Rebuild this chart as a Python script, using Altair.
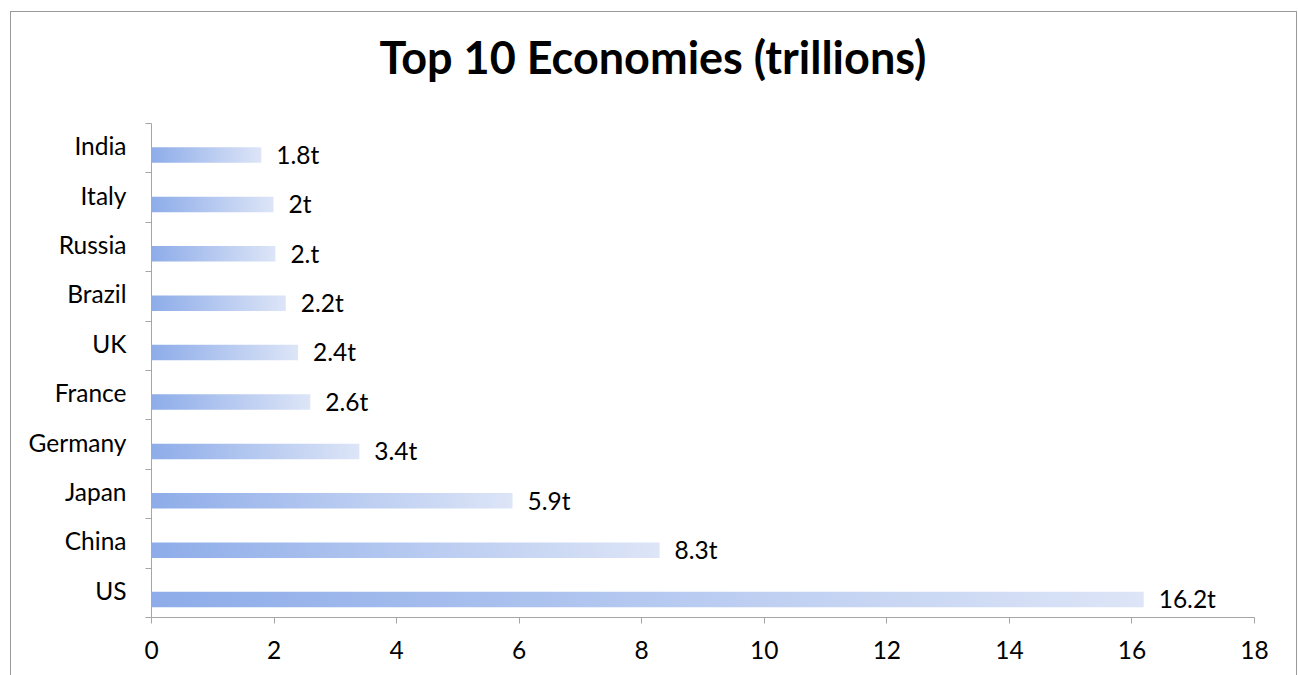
import altair as alt
import pandas as pd

countries = ["India", "Italy", "Russia", "Brazil", "UK", "France", "Germany", "Japan", "China", "US"]
values = [1.8, 2.0, 2.03, 2.2, 2.4, 2.6, 3.4, 5.9, 8.3, 16.2]
labels = ["1.8t", "2t", "2.t", "2.2t", "2.4t", "2.6t", "3.4t", "5.9t", "8.3t", "16.2t"]
x_ticks = [0, 2, 4, 6, 8, 10, 12, 14, 16, 18]

df = pd.DataFrame({"country": countries, "value": values, "label": labels})

FONT = "Lato"
GRAY = "#A6A6A6"
W, H = 1103, 494
FS = 24.5

gradient = alt.Gradient(
    gradient="linear",
    stops=[alt.GradientStop(color="#8DACE9", offset=0),
           alt.GradientStop(color="#DDE5F7", offset=1)],
    x1=0, x2=1, y1=0, y2=0,
)

y_enc = alt.Y(
    "country:N",
    sort=countries,
    title=None,
    scale=alt.Scale(paddingInner=0, paddingOuter=0),
    axis=alt.Axis(
        tickBand="extent", domainColor=GRAY, tickColor=GRAY, tickSize=6,
        labelPadding=19, labelFontSize=FS, labelFont=FONT, labelColor="#000000",
        grid=False,
    ),
)
x_enc = alt.X(
    "value:Q",
    title=None,
    scale=alt.Scale(domain=[0, 18], nice=False),
    axis=alt.Axis(
        values=x_ticks, format="d", domainColor=GRAY, tickColor=GRAY, tickSize=6,
        labelPadding=16, labelFontSize=FS, labelFont=FONT, labelColor="#000000",
        grid=False, labelFlush=False,
    ),
)

bars = alt.Chart(df).mark_bar(color=gradient, size=15.5, yOffset=7.3).encode(x=x_enc, y=y_enc)

text = alt.Chart(df).mark_text(
    align="left", baseline="alphabetic", dx=15, yOffset=16,
    font=FONT, fontSize=FS, color="#000000",
).encode(x="value:Q", y=alt.Y("country:N", sort=countries), text="label:N")

border = alt.Chart(df).mark_rect(
    fill=None, stroke="#9A9A9A", strokeWidth=1, strokeDash=[1, 1],
).encode(
    x=alt.value(-140.5), x2=alt.value(1145.5), y=alt.value(-111.5), y2=alt.value(700),
)

chart = alt.layer(border, bars, text).properties(
    width=W, height=H,
    background="#FFFFFF",
    title=alt.Title(
        "Top 10 Economies (trillions)", font=FONT, fontSize=45, fontWeight="bold",
        color="#000000", anchor="middle", dx=-49.5, baseline="alphabetic", offset=0, dy=107.5,
    ),
    autosize=alt.AutoSizeParams(type="none"),
    padding={"left": 151, "top": 123, "right": 44, "bottom": 58},
).configure_view(stroke=None)

chart.save("out.html", embed_options={"renderer": "svg", "actions": False})
